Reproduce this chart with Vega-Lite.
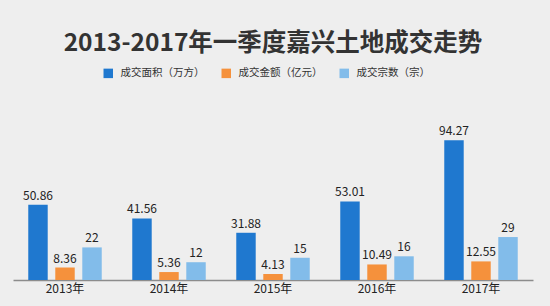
{
  "$schema": "https://vega.github.io/schema/vega-lite/v6.json",
  "width": 520,
  "height": 160,
  "autosize": {"type": "none"},
  "padding": {"left": 13, "top": 120, "right": 17, "bottom": 26},
  "background": "#EEEEEE",
  "config": {
    "view": {"stroke": null},
    "font": "Noto Sans CJK SC"
  },
  "title": {
    "text": "2013-2017年一季度嘉兴土地成交走势",
    "fontSize": 24.5,
    "fontWeight": "bold",
    "color": "#333333",
    "anchor": "middle",
    "offset": 12,
    "font": "Noto Sans CJK SC"
  },
  "data": {
    "values": [
      {"year": "2013年", "series": "成交面积（万方）", "value": 50.86},
      {"year": "2013年", "series": "成交金额（亿元）", "value": 8.36},
      {"year": "2013年", "series": "成交宗数（宗）", "value": 22},
      {"year": "2014年", "series": "成交面积（万方）", "value": 41.56},
      {"year": "2014年", "series": "成交金额（亿元）", "value": 5.36},
      {"year": "2014年", "series": "成交宗数（宗）", "value": 12},
      {"year": "2015年", "series": "成交面积（万方）", "value": 31.88},
      {"year": "2015年", "series": "成交金额（亿元）", "value": 4.13},
      {"year": "2015年", "series": "成交宗数（宗）", "value": 15},
      {"year": "2016年", "series": "成交面积（万方）", "value": 53.01},
      {"year": "2016年", "series": "成交金额（亿元）", "value": 10.49},
      {"year": "2016年", "series": "成交宗数（宗）", "value": 16},
      {"year": "2017年", "series": "成交面积（万方）", "value": 94.27},
      {"year": "2017年", "series": "成交金额（亿元）", "value": 12.55},
      {"year": "2017年", "series": "成交宗数（宗）", "value": 29}
    ]
  },
  "encoding": {
    "x": {
      "field": "year",
      "type": "nominal",
      "scale": {"paddingInner": 0, "paddingOuter": 0},
      "axis": {
        "title": null,
        "labelAngle": 0,
        "labelFontSize": 12,
        "labelColor": "#222222",
        "labelPadding": 3,
        "ticks": false,
        "domainColor": "#8C8C8C",
        "domainWidth": 1.5
      }
    },
    "xOffset": {
      "field": "series",
      "type": "nominal",
      "sort": ["成交面积（万方）", "成交金额（亿元）", "成交宗数（宗）"],
      "scale": {"paddingInner": 0.28, "paddingOuter": 0.565}
    },
    "y": {
      "field": "value",
      "type": "quantitative",
      "scale": {"domain": [0, 108]},
      "axis": null
    }
  },
  "layer": [
    {
      "mark": {"type": "bar"},
      "encoding": {
        "color": {
          "field": "series",
          "type": "nominal",
          "scale": {
            "domain": ["成交面积（万方）", "成交金额（亿元）", "成交宗数（宗）"],
            "range": ["#1F78CF", "#F5913C", "#82BCEA"]
          },
          "legend": {
            "title": null,
            "orient": "none",
            "direction": "horizontal",
            "legendX": 90,
            "legendY": -52,
            "symbolType": "square",
            "symbolSize": 90,
            "symbolStrokeWidth": 0,
            "labelFontSize": 10.5,
            "labelColor": "#333333",
            "labelOffset": 7,
            "columnPadding": 16
          }
        }
      }
    },
    {
      "mark": {"type": "text", "baseline": "bottom", "dy": -2, "fontSize": 12, "color": "#222222"},
      "encoding": {
        "text": {"field": "value", "type": "quantitative"}
      }
    }
  ]
}
